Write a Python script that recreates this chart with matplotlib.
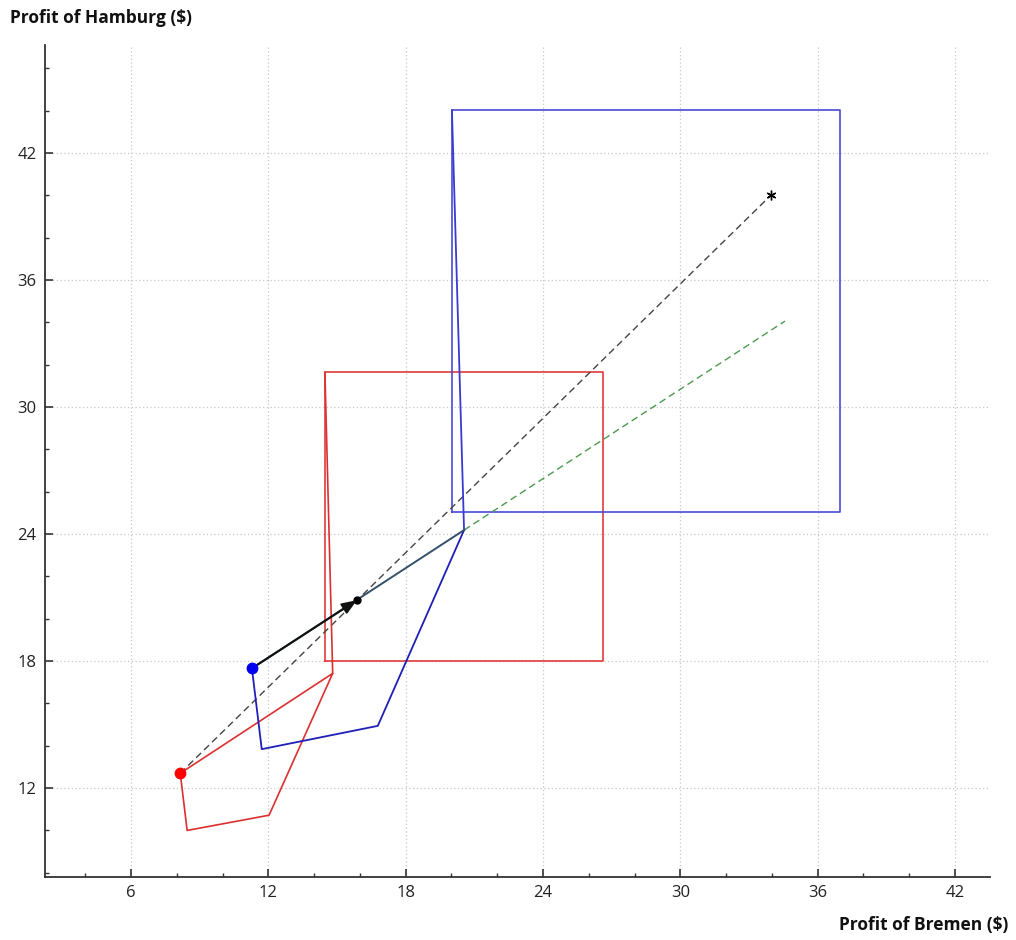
import matplotlib
matplotlib.use("Agg")
import matplotlib.pyplot as plt
from matplotlib.ticker import MultipleLocator

plt.rcParams['font.family'] = ['Open Sans', 'DejaVu Sans']

# Starting points of the two firms
red_start = (8.15, 12.7)
blue_start = (11.28, 17.66)

# Red (Hamburg) polygon and spike to its box
red_poly_x = [8.15, 8.45, 12.03, 14.81, 8.15]
red_poly_y = [12.7, 10.0, 10.72, 17.42, 12.7]
red_spike_x = [14.81, 14.47]
red_spike_y = [17.42, 31.65]
red_box_x = [14.47, 26.62]
red_box_y = [18.0, 31.65]

# Blue (Bremen) polygon and spike to its box
blue_poly_x = [11.28, 11.71, 16.78, 20.55]
blue_poly_y = [17.66, 13.84, 14.94, 24.19]
blue_spike_x = [20.55, 20.02]
blue_spike_y = [24.19, 44.03]
blue_box_x = [20.02, 36.97]
blue_box_y = [25.04, 44.03]

# Reference lines
star_point = (33.96, 40.01)
green_end = (34.57, 34.06)
mid_point = (15.87, 20.88)

x_major = [6, 12, 18, 24, 30, 36, 42]
y_major = [12, 18, 24, 30, 36, 42]

fig = plt.figure(figsize=(10.16, 9.40), dpi=100)
ax = fig.add_axes([0.0443, 0.067, 0.9301, 0.885])
ax.set_xlim(2.24, 43.53)
ax.set_ylim(7.80, 47.10)

ax.set_xticks(x_major)
ax.set_yticks(y_major)
ax.xaxis.set_minor_locator(MultipleLocator(2))
ax.yaxis.set_minor_locator(MultipleLocator(2))
ax.grid(True, which='major', color='#c8c8c8', linestyle=(0, (1, 2)), linewidth=0.9)
ax.set_axisbelow(True)

for s in ['top', 'right']:
    ax.spines[s].set_visible(False)
for s in ['left', 'bottom']:
    ax.spines[s].set_color('#333333')
    ax.spines[s].set_linewidth(1.3)
ax.tick_params(which='major', direction='in', length=6, width=1.2, color='#333333',
               labelsize=12, labelcolor='#222222', pad=6)
ax.tick_params(which='minor', direction='in', length=3, width=1.0, color='#333333')

def box(xs, ys):
    return ([xs[0], xs[1], xs[1], xs[0], xs[0]], [ys[0], ys[0], ys[1], ys[1], ys[0]])

# Boxes
bx, by = box(red_box_x, red_box_y)
ax.plot(bx, by, color='#e03a3a', lw=1.2)
bx, by = box(blue_box_x, blue_box_y)
ax.plot(bx, by, color='#4a4ad8', lw=1.2)

# Dashed reference lines
ax.plot([red_start[0], star_point[0]], [red_start[1], star_point[1]],
        color='#444444', lw=1.0, linestyle=(0, (5, 3)))
ax.plot([blue_poly_x[-1], green_end[0]], [blue_poly_y[-1], green_end[1]],
        color='#4c9a4c', lw=1.0, linestyle=(0, (5, 3)))
ax.plot([star_point[0]], [star_point[1]], marker=(6, 2, 0), color='black',
        markersize=7, mew=1.0)

# Polygons and spikes
ax.plot(red_poly_x, red_poly_y, color='#dc3030', lw=1.2)
ax.plot(red_spike_x, red_spike_y, color='#dc3030', lw=1.2)
ax.plot(blue_poly_x, blue_poly_y, color='#1f1fb8', lw=1.3)
ax.plot(blue_spike_x, blue_spike_y, color='#3a3ad0', lw=1.3)

# Line from blue start to the blue vertex, with arrow to the midpoint
ax.plot([blue_start[0], blue_poly_x[-1]], [blue_start[1], blue_poly_y[-1]],
        color='#34506a', lw=1.4)
ax.annotate('', xy=mid_point, xytext=blue_start,
            arrowprops=dict(arrowstyle='-|>,head_length=0.9,head_width=0.35',
                            color='#111111', lw=1.5, shrinkA=0, shrinkB=0))
ax.plot([mid_point[0]], [mid_point[1]], 'o', color='black', markersize=5)

# Start markers
ax.plot([red_start[0]], [red_start[1]], 'o', color='#ff0000', markersize=7.5, zorder=5)
ax.plot([blue_start[0]], [blue_start[1]], 'o', color='#0000ee', markersize=7.5, zorder=5)

fig.text(10 / 1016, 1 - 18 / 940, 'Profit of Hamburg ($)', fontsize=12.5,
         fontweight='bold', ha='left', va='center', color='#111111')
fig.text(1008 / 1016, 1 - 925 / 940, 'Profit of Bremen ($)', fontsize=12.5,
         fontweight='bold', ha='right', va='center', color='#111111')

fig.savefig('out.png', dpi=100)
